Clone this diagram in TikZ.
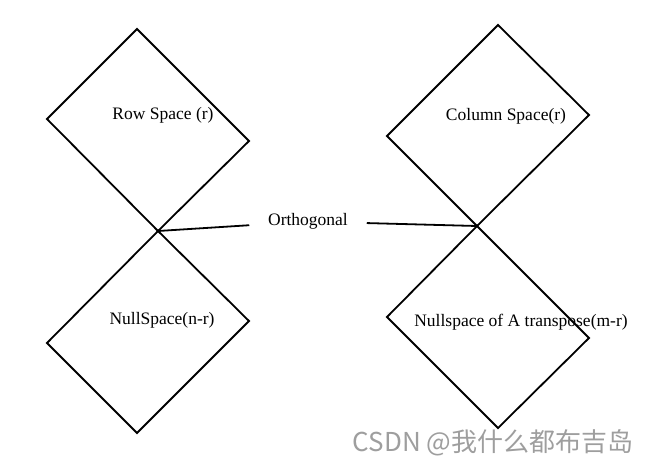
\documentclass[tikz,border=0pt]{standalone}
\usepackage{fontspec}
\setmainfont{Liberation Serif}
\newfontfamily\cjk{Noto Sans CJK SC}
\usetikzlibrary{positioning}

\begin{document}
\begin{tikzpicture}[x=1pt,y=-1pt,line width=1.8pt,line join=miter,
 every node/.style={inner sep=0pt,font=\fontsize{17.5}{20}\selectfont}]
 \useasboundingbox (0,0) rectangle (651,467);
 % corners of the four diamonds
 \coordinate (rt) at (137,29);
 \coordinate (rl) at (47,119);
 \coordinate (rr) at (249,141);
 \coordinate (jl) at (158,231);
 \coordinate (nl) at (47,343);
 \coordinate (nr) at (249,321);
 \coordinate (nb) at (137,433);
 \coordinate (ct) at (498,25);
 \coordinate (cl) at (387,136);
 \coordinate (cr) at (589,115);
 \coordinate (jr) at (477,226);
 \coordinate (ml) at (387,317);
 \coordinate (mr) at (589,338);
 \coordinate (mb) at (498,428);
 \foreach \a/\b/\c/\d in {rt/rr/jl/rl,jl/nr/nb/nl,ct/cr/jr/cl,jr/mr/mb/ml}
   \draw (\a)--(\b)--(\c)--(\d)--cycle;
 % labels
 \node (row) at (163,115) {Row Space (r)};
 \node (col) at (506,116) {Column Space(r)};
 \node (null) at (162,320) {NullSpace(n-r)};
 \node (lnull) at (521,322) {Nullspace of A transpose(m-r)};
 \node[inner xsep=18pt,inner ysep=4pt] (orth) at (308,221.5) {Orthogonal};
 \draw (jl)--(orth);
 \draw (jr)--(orth);
 \node[text=black!38,font=\cjk\fontsize{26}{30}\selectfont] (mark) at (493,443)
   {CSDN @我什么都布吉岛};
\end{tikzpicture}
\end{document}
